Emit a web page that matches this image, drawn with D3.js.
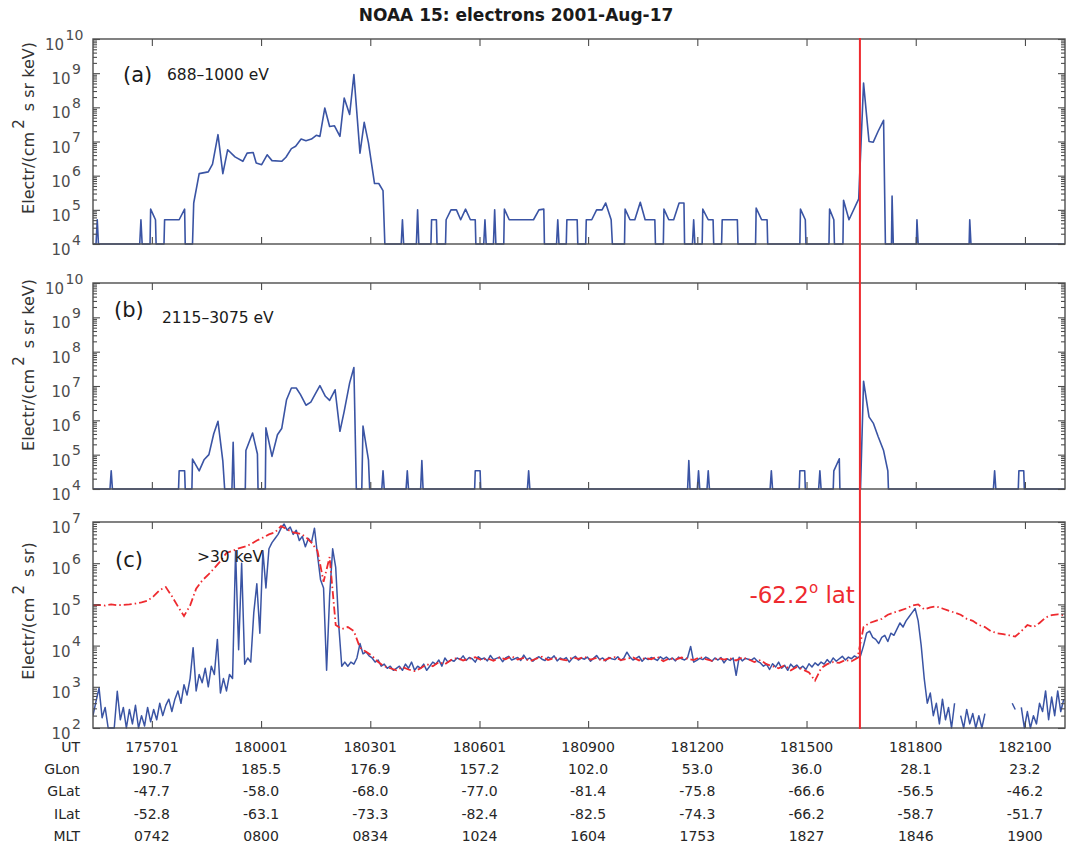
<!DOCTYPE html>
<html><head><meta charset="utf-8">
<script src="https://cdn.jsdelivr.net/npm/d3@7/dist/d3.min.js"></script>
<style>body{margin:0;background:#fff}svg{display:block;font-family:"DejaVu Sans",sans-serif}</style>
</head><body><svg id="chart" width="1067" height="843"></svg>
<script>
// ---------------- data ----------------
const title = "NOAA 15: electrons 2001-Aug-17";
const refTime = "175500";          // data times are seconds after this UT
const timeStart = "175524", timeEnd = "182206";
const boundaryTime = "181628";
const boundaryLabel = "-62.2";
const rowNames = ["UT", "GLon", "GLat", "ILat", "MLT"];
const utLabels = ["175701","180001","180301","180601","180900","181200","181500","181800","182100"];
const glonLabels = ["190.7","185.5","176.9","157.2","102.0","53.0","36.0","28.1","23.2"];
const glatLabels = ["-47.7","-58.0","-68.0","-77.0","-81.4","-75.8","-66.6","-56.5","-46.2"];
const ilatLabels = ["-52.8","-63.1","-73.3","-82.4","-82.5","-74.3","-66.2","-58.7","-51.7"];
const mltLabels = ["0742","0800","0834","1024","1604","1753","1827","1846","1900"];

// panel (a) 688-1000 eV: [seconds after refTime, log10 flux]
const fluxA = [[24,4],[29,4],[31,4.71],[33,4],[101,4],[103,4.71],[105,4],[118,4],[119,5.02],[127,4.71],[128,4],
[141,4],[142,4.71],[166,4.71],[175,5.02],[176,4],
[188,4],[190,5.2],[199,6.06],[214,6.11],[221,6.34],[230,7.2],[238,6.06],[246,6.76],[258,6.55],[271,6.42],[278,6.66],[288,6.68],[293,6.37],[302,6.32],[311,6.61],[319,6.44],[335,6.42],[342,6.54],[351,6.79],[358,6.86],[367,7.07],[375,7.02],[384,7.07],[392,7.18],[398,7.15],[406,7.98],[414,7.44],[422,7.46],[431,7.15],[438,8.27],[447,7.79],[454,8.96],[464,6.66],[471,7.56],[478,6.96],[488,5.77],[495,5.77],[502,5.56],[505,4],
[532,4],[534,4.71],[536,4],[557,4],[559,5.0],[561,4],[581,4],[582,4.71],[590,4.71],[591,4],
[605,4],[606,4.71],[614,5.0],[623,5.0],[630,4.71],[638,5.02],[646,4.71],[654,4.71],[655,4],
[668,4],[670,4.71],[672,4],[684,4],[686,5.0],[688,4],[701,4],[702,5.02],[710,4.71],[750,4.71],[759,5.0],[767,5.02],[768,4],
[788,4],[790,4.71],[792,4],[804,4],[805,4.71],[822,4.71],[823,4],
[836,4],[837,4.71],[846,4.71],[854,5.0],[863,5.0],[869,5.2],[878,4.71],[880,4],
[900,4],[901,5.02],[909,4.71],[917,4.71],[926,5.22],[934,4.71],[950,4.71],[951,4],
[964,4],[965,5.02],[973,4.71],[981,4.71],[990,5.2],[998,5.2],[999,4],
[1012,4],[1014,4.71],[1016,4],[1028,4],[1029,5.02],[1038,4.71],[1046,4.71],[1047,4],
[1060,4],[1061,4.71],[1086,4.71],[1087,4],[1116,4],[1117,5.05],[1126,4.71],[1135,4.71],[1136,4],
[1189,4],[1190,5.02],[1198,4.71],[1199,4],[1237,4],[1238,5.02],[1245,4.71],[1246,4],
[1260,4],[1261,5.28],[1270,4.71],[1286,5.32],[1294,8.71],[1303,7.0],[1310,6.98],[1318,7.3],[1327,7.62],[1330,4],
[1340,4],[1341,5.4],[1343,4],[1381,4],[1382,4.71],[1384,4],[1468,4],[1469,4.71],[1471,4],[1626,4]];

// panel (b) 2115-3075 eV: [seconds after refTime, log10 flux]
const fluxB = [[24,4],[52,4],[54,4.53],[56,4],[165,4],[166,4.53],[175,4.53],[176,4],
[187,4],[188,4.87],[199,4.53],[207,4.85],[215,5.0],[223,5.61],[230,5.97],[238,4.81],[241,4],
[253,4],[255,5.36],[257,4],[275,4],[276,5.12],[287,5.63],[295,5.02],[296,4],
[308,4],[309,5.78],[319,4.95],[328,5.58],[335,5.76],[343,6.6],[351,6.94],[359,6.94],[366,6.75],[375,6.44],[383,6.53],[392,6.82],[398,7.01],[407,6.7],[414,6.58],[423,6.89],[431,5.68],[438,6.26],[447,7.09],[454,7.54],[458,4],
[467,4],[469,5.83],[478,4.85],[480,4],[500,4],[502,4.53],[504,4],[540,4],[542,4.53],[544,4],[564,4],[566,4.83],[568,4],
[653,4],[654,4.53],[662,4.53],[663,4],[740,4],[742,4.53],[744,4],
[1004,4],[1006,4.83],[1008,4],[1020,4],[1022,4.53],[1024,4],[1036,4],[1038,4.53],[1040,4],[1140,4],[1142,4.53],[1144,4],
[1188,4],[1189,4.53],[1197,4.53],[1198,4],[1220,4],[1222,4.53],[1224,4],[1244,4],[1245,4.53],[1254,4.88],[1255,4],
[1289,4],[1294,7.14],[1303,6.10],[1310,5.92],[1318,5.53],[1327,5.12],[1334,4.53],[1335,4],
[1508,4],[1510,4.53],[1512,4],[1549,4],[1550,4.53],[1558,4.53],[1559,4],[1626,4]];

// panel (c) >30 keV, blue: log10 flux every 5 s from 24 s (null = no data)
const blueStart = 24, blueStep = 5;
const fluxCblue = [2.3,2.65,2.97,2.25,2.5,2.0,2.0,2.0,2.89,2.2,2.5,2.0,2.45,2.1,2.55,2.0,2.3,2.05,2.5,2.15,
2.45,2.2,2.6,2.3,2.55,2.7,2.4,2.7,2.9,2.6,3.05,2.8,3.2,3.95,2.9,3.3,3.1,3.45,3.0,3.5,3.3,4.15,2.85,3.2,2.9,3.3,3.2,
6.3,3.9,6.0,3.55,3.7,3.6,4.8,5.5,4.3,6.3,5.4,6.35,6.5,6.6,6.7,6.85,6.95,6.8,6.88,6.7,6.8,6.55,6.65,6.4,6.6,6.5,6.85,6.2,5.6,5.4,
3.4,5.2,6.35,5.9,4.5,3.5,3.6,3.5,3.6,3.55,3.7,
4.05,3.8,3.85,3.75,3.7,3.6,3.65,3.5,3.55,3.45,3.5,3.4,3.45,
3.5,3.4,3.55,3.45,3.6,3.4,3.5,3.45,3.55,3.4,3.5,3.6,3.55,3.65,3.5,3.7,3.6,3.65,
3.62,3.7,3.66,3.75,3.64,3.71,3.68,3.6,3.73,3.67,
3.7,3.63,3.76,3.66,3.69,3.72,3.61,3.7,3.74,3.65,
3.68,3.71,3.64,3.77,3.66,3.7,3.62,3.69,3.73,3.67,
3.64,3.72,3.68,3.75,3.63,3.7,3.66,3.71,3.6,3.69,
3.74,3.65,3.7,3.67,3.72,3.62,3.69,3.76,3.66,3.7,
3.63,3.71,3.68,3.66,3.73,3.64,3.7,3.84,3.72,3.65,
3.69,3.74,3.62,3.7,3.66,3.71,3.68,3.64,3.73,3.67,
3.72,3.66,3.7,3.63,3.72,3.68,3.65,3.71,3.98,3.6,
3.64,3.69,3.66,3.72,3.68,3.62,3.7,3.65,3.71,3.58,
3.68,3.64,3.7,3.28,3.72,3.63,3.69,3.67,3.65,3.7,
3.62,
3.58,3.5,3.55,3.42,3.56,3.48,3.6,3.45,3.52,3.4,3.55,3.47,3.53,3.44,3.5,3.42,3.56,3.48,3.58,3.52,
3.6,3.55,3.66,3.58,3.7,3.62,3.68,3.74,3.65,3.72,3.68,3.75,3.7,
3.75,4.0,4.3,4.35,4.2,4.15,4.05,4.2,4.25,4.1,4.3,4.25,4.4,4.55,4.45,4.6,4.7,4.8,4.9,4.6,4.0,3.2,
2.6,2.85,2.3,2.6,2.1,2.7,2.2,2.5,2.0,2.6,null,
2.3,2.0,2.45,2.1,2.35,2.0,2.3,2.0,2.35,null,null,null,null,null,null,null,null,
2.6,2.45,null,2.5,2.0,2.4,2.0,2.3,2.1,2.6,2.4,2.9,2.2,2.75,2.3,2.9,2.4,2.7];

// panel (c) red dash-dot: log10 flux every 10 s from 24 s
const redStart = 24, redStep = 10;
const fluxCred = [4.98,4.99,4.97,5.0,4.98,4.99,5.0,5.02,5.05,5.09,5.2,5.35,5.42,5.2,4.95,4.72,4.97,5.38,5.58,5.72,
5.88,6.05,6.25,6.3,6.36,6.4,6.46,6.55,6.62,6.7,6.75,6.9,6.82,6.75,6.72,6.65,6.5,6.3,5.55,6.15,
4.5,4.4,4.45,4.35,3.95,3.85,3.75,3.6,3.5,3.45,3.4,3.48,3.42,3.38,3.45,3.55,3.5,3.6,3.55,3.65,
3.7,3.64,3.68,3.72,3.65,3.69,3.63,3.71,3.67,3.74,
3.66,3.7,3.62,3.68,3.73,3.65,3.7,3.67,3.64,3.71,
3.68,3.73,3.66,3.7,3.63,3.69,3.72,3.65,3.68,3.71,
3.64,3.7,3.67,3.73,3.62,3.69,3.66,3.71,3.68,3.65,
3.72,3.67,3.63,3.7,3.66,3.69,3.64,3.71,3.67,3.6,3.65,
3.55,3.5,3.45,3.52,3.4,3.48,3.42,3.35,3.15,3.45,
3.55,3.6,3.58,3.65,3.62,3.7,
4.45,4.55,4.6,4.65,4.75,4.8,4.85,4.9,4.97,5.0,4.88,4.93,4.95,4.9,4.85,4.8,4.75,4.65,4.6,4.5,
4.45,4.35,4.3,4.28,4.25,4.22,4.35,4.5,4.45,4.55,4.68,4.74,4.76,4.74];

// ---------------- drawing ----------------
const svg = d3.select("#chart");
const BLUE = "#3a54a4", RED = "#ee2a2f", AX = "#4d4d4d", TXT = "#262626";
const X0 = 93, X1 = 1065;
const toSec = s => +s.slice(0,2)*3600 + +s.slice(2,4)*60 + +s.slice(4,6);
const base = toSec(refTime);
const x = d3.scaleLinear().domain([toSec(timeStart) - base, toSec(timeEnd) - base]).range([X0, X1]);
const utTicks = utLabels.map(u => toSec(u) - base);

svg.append("text").attr("x", 516).attr("y", 21).attr("text-anchor", "middle")
  .attr("font-weight", "bold").attr("font-size", 17).attr("fill", "#1a1a1a").text(title);

const panels = [
  {id:"a", top:39, bottom:244, lo:4, hi:10, ylab:" s sr keV)", ylabY:128, tag:"(a)", tagX:123, tagY:82, note:"688–1000 eV", noteX:167, noteY:80},
  {id:"b", top:283, bottom:489, lo:4, hi:10, ylab:" s sr keV)", ylabY:365, tag:"(b)", tagX:114, tagY:317, note:"2115–3075 eV", noteX:162, noteY:323},
  {id:"c", top:522, bottom:728, lo:2, hi:7, ylab:" s sr)", ylabY:611, tag:"(c)", tagX:115, tagY:567, note:">30 keV", noteX:197, noteY:562}
];

panels.forEach(p => {
  const y = d3.scaleLog().domain([Math.pow(10, p.lo), Math.pow(10, p.hi)]).range([p.bottom, p.top]);
  const g = svg.append("g");
  svg.append("clipPath").attr("id", "clip" + p.id).append("rect")
    .attr("x", X0).attr("y", p.top - 1).attr("width", X1 - X0).attr("height", p.bottom - p.top + 2);
  const plot = g.append("g").attr("clip-path", `url(#clip${p.id})`);

  if (p.id === "a" || p.id === "b") {
    const data = p.id === "a" ? fluxA : fluxB;
    const line = d3.line().x(d => x(d[0])).y(d => y(Math.pow(10, d[1])));
    plot.append("path").attr("d", line(data)).attr("fill", "none")
      .attr("stroke", BLUE).attr("stroke-width", 1.6).attr("stroke-linejoin", "round");
  } else {
    const lineB = d3.line().defined(d => d != null)
      .x((d, i) => x(blueStart + i * blueStep)).y(d => y(Math.pow(10, d)));
    plot.append("path").attr("d", lineB(fluxCblue)).attr("fill", "none")
      .attr("stroke", BLUE).attr("stroke-width", 1.5).attr("stroke-linejoin", "round");
    const lineR = d3.line().x((d, i) => x(redStart + i * redStep)).y(d => y(Math.pow(10, d)));
    plot.append("path").attr("d", lineR(fluxCred)).attr("fill", "none")
      .attr("stroke", RED).attr("stroke-width", 1.8).attr("stroke-dasharray", "8,3,1.5,3");
  }

  // axes: ticks inward on all four sides
  const majors = d3.range(p.lo, p.hi + 1).map(e => Math.pow(10, e));
  const minors = [];
  for (let e = p.lo; e < p.hi; e++) for (let m = 2; m <= 9; m++) minors.push(m * Math.pow(10, e));
  g.append("g").attr("transform", `translate(0,${p.bottom})`)
    .call(d3.axisBottom(x).tickValues(utTicks).tickSize(-7).tickSizeOuter(0).tickFormat(""));
  g.append("g").attr("transform", `translate(0,${p.top})`)
    .call(d3.axisTop(x).tickValues(utTicks).tickSize(-7).tickSizeOuter(0).tickFormat(""));
  g.append("g").attr("transform", `translate(${X0},0)`).call(d3.axisLeft(y).tickValues(majors).tickSize(-7).tickSizeOuter(0).tickFormat(""));
  g.append("g").attr("transform", `translate(${X0},0)`).call(d3.axisLeft(y).tickValues(minors).tickSize(-4).tickSizeOuter(0).tickFormat(""));
  g.append("g").attr("transform", `translate(${X1},0)`).call(d3.axisRight(y).tickValues(majors).tickSize(-7).tickSizeOuter(0).tickFormat(""));
  g.append("g").attr("transform", `translate(${X1},0)`).call(d3.axisRight(y).tickValues(minors).tickSize(-4).tickSizeOuter(0).tickFormat(""));
  g.selectAll(".domain").remove();
  g.selectAll(".tick line").attr("stroke", AX).attr("stroke-width", 1.1);
  g.append("rect").attr("x", X0).attr("y", p.top).attr("width", X1 - X0).attr("height", p.bottom - p.top)
    .attr("fill", "none").attr("stroke", AX).attr("stroke-width", 1.4);

  // y tick labels 10^n
  majors.forEach((v, k) => {
    const e = p.lo + k;
    const ty = y(v);
    const bx = e >= 10 ? 64 : 70.5;
    svg.append("text").attr("x", bx).attr("y", ty + 11).attr("text-anchor", "end")
      .attr("font-size", 15).attr("fill", AX).text("10");
    svg.append("text").attr("x", bx + 1.5).attr("y", ty + 0.5).attr("text-anchor", "start")
      .attr("font-size", 14).attr("fill", AX).text(String(e));
  });

  // y label
  const yl = svg.append("text").attr("transform", `translate(34,${p.ylabY}) rotate(-90)`)
    .attr("text-anchor", "middle").attr("font-size", 16).attr("fill", "#333");
  yl.append("tspan").text("Electr/(cm");
  yl.append("tspan").attr("dy", -10).attr("dx", 3).attr("font-size", 15).text("2");
  yl.append("tspan").attr("dy", 10).attr("dx", 3).text(p.ylab);

  svg.append("text").attr("x", p.tagX).attr("y", p.tagY).attr("font-size", 21).attr("fill", "#1a1a1a").text(p.tag);
  svg.append("text").attr("x", p.noteX).attr("y", p.noteY).attr("font-size", 15.5).attr("fill", "#1a1a1a").text(p.note);
});

// boundary line and label
const bx = x(toSec(boundaryTime) - base);
svg.append("line").attr("x1", bx).attr("x2", bx).attr("y1", panels[0].top - 1).attr("y2", panels[2].bottom + 1)
  .attr("stroke", RED).attr("stroke-width", 2);
const bl = svg.append("text").attr("x", bx - 5).attr("y", 603).attr("text-anchor", "end")
  .attr("font-size", 23).attr("fill", RED);
bl.append("tspan").text(boundaryLabel);
bl.append("tspan").attr("dy", -10).attr("font-size", 15).text("o");
bl.append("tspan").attr("dy", 10).text(" lat");

// bottom ephemeris table
const rows = [utLabels, glonLabels, glatLabels, ilatLabels, mltLabels];
rows.forEach((vals, r) => {
  const ty = 752 + r * 22.2;
  svg.append("text").attr("x", 80).attr("y", ty).attr("text-anchor", "end")
    .attr("font-size", 14).attr("fill", TXT).text(rowNames[r]);
  vals.forEach((v, k) => {
    svg.append("text").attr("x", x(utTicks[k])).attr("y", ty).attr("text-anchor", "middle")
      .attr("font-size", 14).attr("fill", TXT).text(v);
  });
});
</script></body></html>
